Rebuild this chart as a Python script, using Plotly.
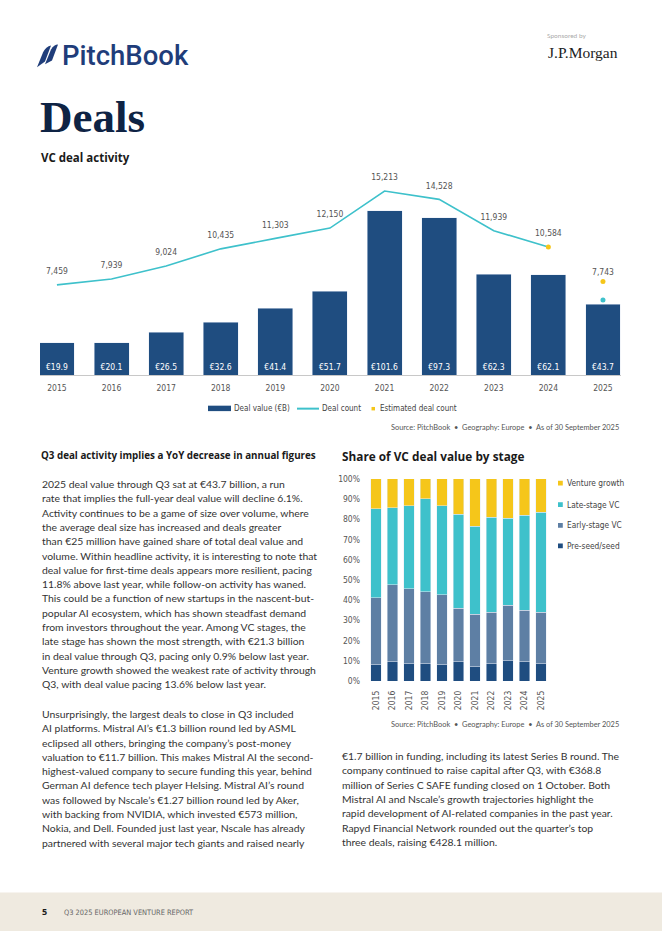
import plotly.graph_objects as go

W, H = 662, 936
def X(px): return px / W
def Y(py): return 1 - py / H

# ---------------- data ----------------
years = ["2015", "2016", "2017", "2018", "2019", "2020", "2021", "2022", "2023", "2024", "2025"]
deal_value = [19.9, 20.1, 26.5, 32.6, 41.4, 51.7, 101.6, 97.3, 62.3, 62.1, 43.7]
deal_count = [7459, 7939, 9024, 10435, 11303, 12150, 15213, 14528, 11939, 10584, 6210]
est_years = ["2024", "2025"]
est_count = [10584, 7743]

seed = [8.0, 9.5, 8.5, 8.5, 8.0, 9.5, 7.0, 8.5, 10.0, 9.5, 8.5]
early = [33.3, 38.1, 37.2, 35.7, 34.7, 26.4, 26.0, 25.4, 27.4, 25.4, 25.4]
late = [44.0, 38.2, 41.1, 46.0, 44.1, 46.5, 43.5, 47.0, 43.0, 47.0, 49.5]
growth = [14.7, 14.2, 13.2, 9.8, 13.2, 17.6, 23.5, 19.1, 19.6, 18.1, 16.6]
pct_ticks = [0, 10, 20, 30, 40, 50, 60, 70, 80, 90, 100]
pct_labels = [f"{v}%" for v in pct_ticks]

top_legend_names = ["Deal value (€B)", "Deal count", "Estimated deal count"]
stage_names = ["Pre-seed/seed", "Early-stage VC", "Late-stage VC", "Venture growth"]

para1 = [
    "2025 deal value through Q3 sat at €43.7 billion, a run",
    "rate that implies the full-year deal value will decline 6.1%.",
    "Activity continues to be a game of size over volume, where",
    "the average deal size has increased and deals greater",
    "than €25 million have gained share of total deal value and",
    "volume. Within headline activity, it is interesting to note that",
    "deal value for first-time deals appears more resilient, pacing",
    "11.8% above last year, while follow-on activity has waned.",
    "This could be a function of new startups in the nascent-but-",
    "popular AI ecosystem, which has shown steadfast demand",
    "from investors throughout the year. Among VC stages, the",
    "late stage has shown the most strength, with €21.3 billion",
    "in deal value through Q3, pacing only 0.9% below last year.",
    "Venture growth showed the weakest rate of activity through",
    "Q3, with deal value pacing 13.6% below last year.",
]
para2 = [
    "Unsurprisingly, the largest deals to close in Q3 included",
    "AI platforms. Mistral AI’s €1.3 billion round led by ASML",
    "eclipsed all others, bringing the company’s post-money",
    "valuation to €11.7 billion. This makes Mistral AI the second-",
    "highest-valued company to secure funding this year, behind",
    "German AI defence tech player Helsing. Mistral AI’s round",
    "was followed by Nscale’s €1.27 billion round led by Aker,",
    "with backing from NVIDIA, which invested €573 million,",
    "Nokia, and Dell. Founded just last year, Nscale has already",
    "partnered with several major tech giants and raised nearly",
]
para3 = [
    "€1.7 billion in funding, including its latest Series B round. The",
    "company continued to raise capital after Q3, with €368.8",
    "million of Series C SAFE funding closed on 1 October. Both",
    "Mistral AI and Nscale’s growth trajectories highlight the",
    "rapid development of AI-related companies in the past year.",
    "Rapyd Financial Network rounded out the quarter’s top",
    "three deals, raising €428.1 million.",
]

# ---------------- styles ----------------
NAVY = "#1F4D80"
SLATE = "#5E7FA4"
TEAL = "#3EC1CB"
YELLOW = "#F5C61A"
STAGE_COLORS = [NAVY, SLATE, TEAL, YELLOW]
COND = "Liberation Sans Narrow, DejaVu Sans Condensed, Roboto Condensed, Roboto, sans-serif"
BODY = "Lato, Open Sans, sans-serif"
HEAD = "Open Sans, Lato, sans-serif"
TXT = "#333333"

fig = go.Figure()

# ---------------- top chart ----------------
fig.add_trace(go.Bar(
    x=years, y=deal_value, name=top_legend_names[0], marker_color=NAVY, width=0.64,
    text=[f"€{v:.1f}" for v in deal_value], textposition="inside", insidetextanchor="start",
    textangle=0, constraintext="none", textfont=dict(color="white", size=8.5, family=COND),
    xaxis="x", yaxis="y", hoverinfo="skip"))
fig.add_trace(go.Scatter(
    x=years[:10], y=deal_count[:10], name=top_legend_names[1], mode="lines+markers+text",
    line=dict(color=TEAL, width=1.6), marker=dict(size=12, opacity=0),
    text=[f"{v:,}" for v in deal_count[:10]], textposition="top center",
    textfont=dict(color="#555555", size=8.5, family=COND),
    xaxis="x", yaxis="y2", cliponaxis=False))
fig.add_trace(go.Scatter(
    x=years[10:], y=deal_count[10:], mode="markers", marker=dict(color=TEAL, size=5),
    xaxis="x", yaxis="y2", cliponaxis=False))
fig.add_trace(go.Scatter(
    x=est_years, y=est_count, name=top_legend_names[2], mode="markers+text",
    marker=dict(color=YELLOW, size=5), text=["", f"{est_count[1]:,}"],
    textposition="top center", textfont=dict(color="#555555", size=8.5, family=COND),
    xaxis="x", yaxis="y2", cliponaxis=False))

# ---------------- stacked chart ----------------
for vals, nm, col in zip([seed, early, late, growth], stage_names, STAGE_COLORS):
    fig.add_trace(go.Bar(x=years, y=vals, name=nm, marker_color=col, width=0.64,
                         xaxis="x3", yaxis="y3", hoverinfo="skip"))

fig.update_layout(
    width=W, height=H, margin=dict(l=0, r=0, t=0, b=0), showlegend=False,
    paper_bgcolor="white", plot_bgcolor="rgba(0,0,0,0)", barmode="stack",
    xaxis=dict(domain=[X(40), X(621)], type="category", range=[-0.31, 10.33],
               showline=True, linecolor="#C8C8C8", linewidth=1, ticks="",
               ticklabelstandoff=5,
               tickfont=dict(size=8.5, color="#555555", family=COND), anchor="y",
               fixedrange=True),
    yaxis=dict(domain=[Y(374), Y(170)], range=[0, 124.8], visible=False, showgrid=False),
    yaxis2=dict(domain=[Y(374), Y(170)], range=[0, 16694], overlaying="y", visible=False,
                showgrid=False),
    xaxis3=dict(domain=[X(366), X(551)], type="category", range=[-0.6, 10.6],
                tickangle=-90, ticks="", showline=False, anchor="y3",
                ticklabelstandoff=7,
                tickfont=dict(size=8.5, color="#555555", family=COND)),
    yaxis3=dict(domain=[Y(683.3), Y(479)], range=[0, 100], tickmode="array",
                tickvals=pct_ticks, ticktext=pct_labels, showgrid=False, zeroline=False,
                ticks="", ticklabelstandoff=5, anchor="x3",
                tickfont=dict(size=8.5, color="#555555", family=COND)),
)

# ---------------- page furniture ----------------
def rect(x0, y0, x1, y1, color):
    return dict(type="rect", xref="paper", yref="paper", x0=X(x0), x1=X(x1),
                y0=Y(y1), y1=Y(y0), fillcolor=color, line_width=0)

shapes = [
    dict(type="rect", xref="paper", yref="paper", x0=0, x1=1, y0=Y(936), y1=Y(897),
         fillcolor="#EFEAE0", line_width=0, layer="below"),
    dict(type="path", xref="paper", yref="paper", fillcolor="#1F3D7A", line_width=0,
         path=f"M {X(37)} {Y(63)} L {X(43)} {Y(48)} Q {X(46)} {Y(42)} {X(51)} {Y(41)} "
              f"L {X(45)} {Y(57)} Z"),
    dict(type="path", xref="paper", yref="paper", fillcolor="#1F3D7A", line_width=0,
         path=f"M {X(45)} {Y(60)} L {X(51)} {Y(45)} Q {X(54)} {Y(40)} {X(58)} {Y(40)} "
              f"L {X(52)} {Y(56)} Z"),
    # top legend swatches
    rect(208, 405, 231, 410.5, NAVY),
    dict(type="line", xref="paper", yref="paper", x0=X(297), x1=X(319), y0=Y(408),
         y1=Y(408), line=dict(color=TEAL, width=2)),
    rect(371.5, 406.3, 375, 409.8, YELLOW),
]
# stage legend swatches (top item = last stage)
stage_leg_y = [546.7, 526, 505, 483.3]
for col, ly in zip(STAGE_COLORS, stage_leg_y):
    shapes.append(rect(558, ly - 2.4, 562.8, ly + 2.4, col))
fig.update_layout(shapes=shapes)

ann = []
def text(x, y, s, size, color=TXT, family=BODY, anchor="left", weight=None):
    f = dict(size=size, color=color, family=family)
    if weight:
        f["weight"] = weight
    ann.append(dict(x=X(x), y=Y(y), xref="paper", yref="paper", text=s, showarrow=False,
                    xanchor=anchor, yanchor="middle", font=f))

# legends text
text(231.5, 408, top_legend_names[0], 8, "#444444", COND)
text(319.5, 408, top_legend_names[1], 8, "#444444", COND)
text(377.5, 408, top_legend_names[2], 8, "#444444", COND)
for nm, ly in zip(stage_names, stage_leg_y):
    text(564.5, ly, nm, 8.3, "#444444", COND)

text(60, 51, "PitchBook", 27.5, "#1F3D7A", "Roboto, sans-serif", weight=500)
text(545, 31, "Sponsored by", 6.5, "#AAAAAA", BODY)
text(546, 48.5, "J.P.Morgan", 15.5, "#222222", "Liberation Serif, DejaVu Serif, serif")
text(38, 113, "Deals", 45, "#0E2344", "Liberation Serif, DejaVu Serif, serif", weight=700)
text(39, 154.5, "VC deal activity", 11.5, "#1A1A1A", HEAD, weight=700)
text(621, 427, "Source: PitchBook  •  Geography: Europe  •  As of 30 September 2025", 7.4,
     "#555555", BODY, anchor="right")
text(340, 456, "Share of VC deal value by stage", 11.8, "#1A1A1A", HEAD, weight=700)
text(621, 727, "Source: PitchBook  •  Geography: Europe  •  As of 30 September 2025", 7.4,
     "#555555", BODY, anchor="right")
text(39, 455.5, "Q3 deal activity implies a YoY decrease in annual figures", 9.8, "#1A1A1A",
     HEAD, weight=700)

LS = 14.44
for i, line in enumerate(para1):
    text(40, 484.3 + LS * i, line, 10.4)
for i, line in enumerate(para2):
    text(40, 716.7 + LS * i, line, 10.4)
for i, line in enumerate(para3):
    text(340, 759.3 + LS * i, line, 10.4)

text(40, 916, "5", 9, "#1A1A1A", HEAD, weight=700)
text(62, 917, "Q3 2025 EUROPEAN VENTURE REPORT", 7.4, "#666666", COND)

fig.update_layout(annotations=ann)
post = (
    "var s=document.documentElement.style;s.margin='0';s.overflow='hidden';s.height='936px';"
    "var b=document.body.style;b.margin='0';b.padding='0';b.overflow='hidden';b.height='936px';"
    "var g=document.getElementById('{plot_id}');g.style.display='block';"
    "if(g.parentElement){g.parentElement.style.height='936px';g.parentElement.style.overflow='hidden';}"
)
fig.write_html("out.html", config={"displayModeBar": False}, post_script=post)
